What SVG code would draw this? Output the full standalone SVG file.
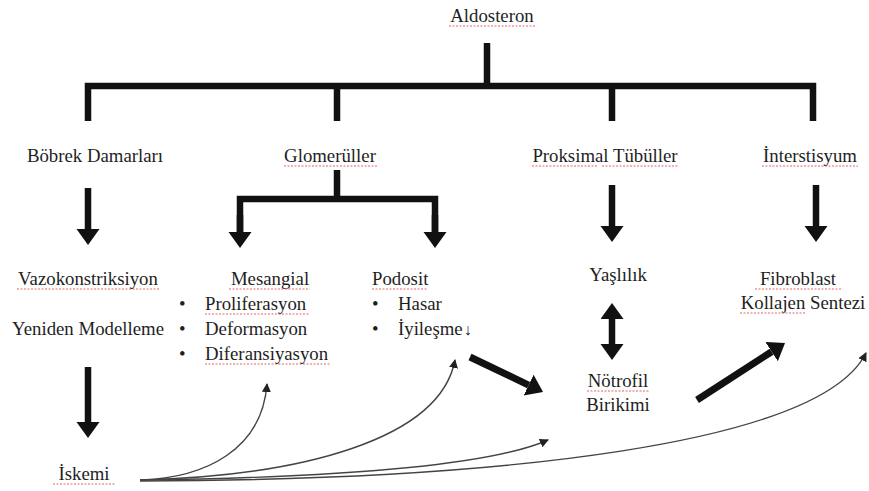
<svg xmlns="http://www.w3.org/2000/svg" width="869" height="491" viewBox="0 0 869 491">
<style>
text{font-family:"Liberation Serif","Times New Roman",serif;font-size:18.8px;fill:#1e1e1e}
.c{text-anchor:middle}
.bar{stroke:#111;stroke-width:6.5;fill:none;stroke-linecap:butt;stroke-linejoin:miter}
.arr{stroke:#111;stroke-width:6.5;fill:none;marker-end:url(#big)}
.arr2{stroke:#111;stroke-width:7;fill:none;marker-end:url(#big)}
.thin{stroke:#444;stroke-width:1.4;fill:none;marker-end:url(#small)}
.sq{stroke:#e06666;stroke-width:1;stroke-dasharray:2 1.5;fill:none}
</style>
<defs>
<marker id="big" markerUnits="userSpaceOnUse" markerWidth="20" markerHeight="26" refX="0" refY="11.5" orient="auto">
<path d="M0,0 L16,11.5 L0,23 z" fill="#111"/>
</marker>
<marker id="bigs" markerUnits="userSpaceOnUse" markerWidth="20" markerHeight="26" refX="0" refY="11.5" orient="auto-start-reverse">
<path d="M0,0 L16,11.5 L0,23 z" fill="#111"/>
</marker>
<marker id="small" markerUnits="userSpaceOnUse" markerWidth="12" markerHeight="12" refX="8" refY="4.5" orient="auto">
<path d="M0,0 L9,4.5 L0,9 z" fill="#222"/>
</marker>
</defs>

<g id="connectors">
<path class="bar" d="M487,43 V86 M88,121 V86 H813 V121 M337,86 V121 M612,86 V121"/>
<path class="bar" d="M337,170 V199 M240,232 V199 H435 V232"/>
<path class="arr" d="M240,215 V232"/>
<path class="arr" d="M435,215 V232"/>
<path class="arr" d="M88,188 V229"/>
<path class="arr" d="M612,185 V226"/>
<path class="arr" d="M816,185 V226"/>
<path d="M612,319 V344" stroke="#111" stroke-width="6.5" marker-start="url(#bigs)" marker-end="url(#bigs)"/>
<path class="arr" d="M88,367 V422"/>
<path class="arr2" d="M470,357 L528.6,385.1"/>
<path class="arr2" d="M697,400 L771.6,351.7"/>
<path class="thin" d="M140,480 C205,478 262,450 267,384"/>
<path class="thin" d="M140,480 C300,476 440,440 455,360"/>
<path class="thin" d="M140,480 C300,478 480,470 548,440"/>
<path class="thin" d="M140,481 C500,480 820,445 866,353"/>
</g>

<g id="aldosteron"><text class="c" x="492" y="22">Aldosteron</text></g>
<g id="bobrek-damarlari"><text class="c" x="95" y="162">Böbrek Damarları</text></g>
<g id="glomeruller"><text class="c" x="330" y="162">Glomerüller</text></g>
<g id="proksimal-tubuller"><text class="c" x="605" y="162">Proksimal Tübüller</text></g>
<g id="interstisyum"><text class="c" x="810" y="162">İnterstisyum</text></g>
<g id="vazokonstriksiyon"><text class="c" x="88" y="285">Vazokonstriksiyon</text><text class="c" x="88" y="335">Yeniden Modelleme</text></g>
<g id="mesangial">
<text class="c" x="270" y="285">Mesangial</text>
<text x="179" y="310">•</text><text x="205" y="310">Proliferasyon</text>
<text x="179" y="335">•</text><text x="205" y="335">Deformasyon</text>
<text x="179" y="360">•</text><text x="205" y="360">Diferansiyasyon</text>
</g>
<g id="podosit">
<text x="372" y="285">Podosit</text>
<text x="372" y="310">•</text><text x="398" y="310">Hasar</text>
<text x="372" y="335">•</text><text x="398" y="335">İyileşme<tspan font-size="16" dx="1">↓</tspan></text>
</g>
<g id="yaslilik"><text class="c" x="618" y="281">Yaşlılık</text></g>
<g id="fibroblast"><text class="c" x="798" y="285">Fibroblast</text><text class="c" x="803" y="309">Kollajen Sentezi</text></g>
<g id="notrofil"><text class="c" x="618" y="387">Nötrofil</text><text class="c" x="618" y="411">Birikimi</text></g>
<g id="iskemi"><text class="c" x="84" y="480">İskemi</text></g>

<g id="spellcheck">
<path class="sq" d="M449,26 H535 M284,166 H377 M532,166 H597 M602,166 H679 M762,166 H858 M17,289 H159 M229,289 H310 M205,314 H310 M205,364 H330 M372,289 H427 M755,289 H842 M740,313 H805 M587,391 H650 M53,484 H115"/>
</g>
</svg>
